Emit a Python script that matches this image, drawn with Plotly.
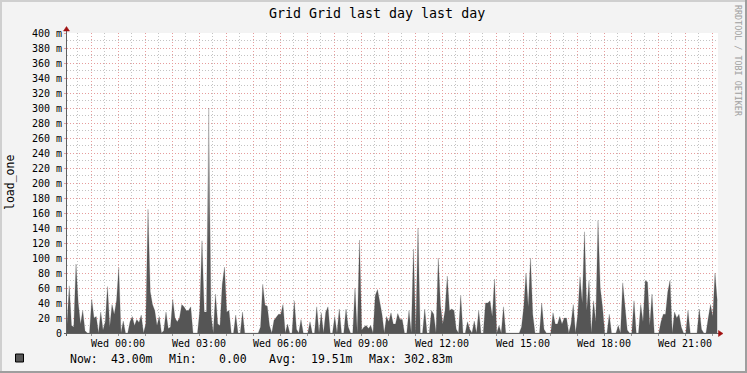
import pandas as pd
import plotly.graph_objects as go

# ---------------- data ----------------
title_text = "Grid Grid last day last day"
y_label = "load_one"
watermark = "RRDTOOL / TOBI OETIKER"
start_time = "2024-01-02 22:06:40"      # left edge of the graph (Tue)
end_time = "2024-01-03 22:13:20"        # right edge of the graph (Wed)
step = "5min"

# load_one in milli-units, one value per 5 minutes
load_one_m = [
    12, 63, 10, 8, 92, 40, 12, 30, 3, 0,
    0, 45, 20, 22, 0, 28, 4, 15, 62, 8,
    38, 25, 43, 87, 0, 16, 0, 0, 15, 22,
    10, 18, 14, 24, 0, 12, 165, 55, 38, 30,
    10, 22, 0, 3, 28, 6, 8, 45, 20, 15,
    20, 38, 35, 30, 30, 35, 0, 0, 0, 30,
    123, 28, 28, 300, 25, 0, 52, 12, 10, 65,
    88, 28, 30, 0, 0, 24, 0, 0, 28, 0,
    0, 0, 0, 0, 0, 0, 8, 65, 37, 36,
    10, 0, 17, 21, 25, 25, 38, 0, 12, 0,
    0, 43, 5, 0, 18, 0, 0, 0, 15, 0,
    0, 35, 0, 27, 0, 28, 35, 0, 0, 22,
    0, 32, 0, 0, 32, 8, 0, 0, 60, 0,
    124, 4, 8, 10, 6, 10, 0, 50, 58, 43,
    25, 0, 22, 15, 27, 12, 12, 26, 18, 18,
    0, 0, 30, 0, 112, 0, 140, 0, 0, 32,
    0, 0, 30, 25, 0, 100, 37, 12, 30, 76,
    30, 32, 30, 5, 0, 50, 0, 0, 15, 5,
    0, 16, 0, 30, 0, 0, 40, 40, 43, 22,
    72, 0, 10, 0, 35, 0, 0, 0, 0, 0,
    0, 0, 8, 35, 80, 35, 100, 25, 0, 0,
    0, 40, 5, 0, 0, 0, 27, 12, 12, 22,
    12, 20, 20, 0, 12, 38, 0, 25, 75, 40,
    135, 30, 70, 0, 43, 15, 150, 60, 35, 0,
    0, 25, 0, 0, 0, 10, 0, 67, 40, 4,
    0, 0, 43, 0, 0, 38, 15, 70, 68, 10,
    52, 0, 0, 0, 15, 25, 25, 55, 70, 0,
    28, 20, 25, 8, 0, 0, 30, 0, 0, 0,
    0, 32, 5, 0, 0, 20, 38, 22, 80, 43,
]

y_tick_values = [0, 20, 40, 60, 80, 100, 120, 140, 160, 180, 200,
                 220, 240, 260, 280, 300, 320, 340, 360, 380, 400]
y_tick_labels = ["0"] + [f"{v} m" for v in y_tick_values[1:]]
y_minor_values = [10, 30, 50, 70, 90, 110, 130, 150, 170, 190,
                  210, 230, 250, 270, 290, 310, 330, 350, 370, 390]

hour_ticks = ["2024-01-02 23:00"] + [f"2024-01-03 {h:02d}:00" for h in range(0, 23)]
half_hour_ticks = ["2024-01-02 22:30", "2024-01-02 23:30"] + \
    [f"2024-01-03 {h:02d}:30" for h in range(0, 22)]
x_tick_labels = {"2024-01-03 00:00": "Wed 00:00", "2024-01-03 03:00": "Wed 03:00",
                 "2024-01-03 06:00": "Wed 06:00", "2024-01-03 09:00": "Wed 09:00",
                 "2024-01-03 12:00": "Wed 12:00", "2024-01-03 15:00": "Wed 15:00",
                 "2024-01-03 18:00": "Wed 18:00", "2024-01-03 21:00": "Wed 21:00"}

legend_items = [("Now:", 67.7), ("43.00m", 109), ("Min:", 166.7), ("0.00", 216.7),
                ("Avg:", 266.7), ("19.51m", 309), ("Max:", 366.7), ("302.83m", 401.7)]

# ---------------- layout helpers ----------------
W, H = 747, 373
L, R, T, B = 67, 718, 33, 333          # plot area in pixels


def px(x):
    return (x - L) / (R - L)


def py(y):
    return (B - y) / (B - T)


FONT = "DejaVu Sans Mono"
times = pd.date_range(start_time, periods=len(load_one_m), freq=step)

fig = go.Figure()
fig.add_trace(go.Scatter(
    x=times, y=load_one_m, mode="lines", fill="tozeroy",
    fillgradient=dict(type="vertical",
                      colorscale=[[0.0, "#555555"], [0.4, "#555555"], [1.0, "#D8D8D8"]]),
    line=dict(color="rgba(85,85,85,0.6)", width=0.4),
    hoverinfo="skip", showlegend=False,
))

grid_major = "#E69C9C"
grid_minor = "#C4C4C4"
dots = "1px,2px"

fig.update_layout(
    width=W, height=H, autosize=False,
    margin=dict(l=L, r=W - R, t=T, b=H - B, pad=0),
    paper_bgcolor="#F3F3F3", plot_bgcolor="#FFFFFF",
    font=dict(family=FONT, size=10, color="#000000"),
    showlegend=False,
    xaxis=dict(
        type="date", range=[start_time, end_time],
        tickmode="array", tickvals=hour_ticks,
        ticktext=[x_tick_labels.get(t, "") for t in hour_ticks],
        showgrid=True, gridcolor=grid_major, griddash=dots, gridwidth=1,
        ticks="outside", ticklen=2, tickcolor="#999999", ticklabelstandoff=-1,
        tickfont=dict(family=FONT, size=10, color="#000000"),
        showline=False, zeroline=False,
        minor=dict(tickmode="array", tickvals=half_hour_ticks, showgrid=True,
                   gridcolor=grid_minor, griddash=dots, ticks=""),
    ),
    yaxis=dict(
        range=[0, 400], tickmode="array", tickvals=y_tick_values, ticktext=y_tick_labels,
        showgrid=True, gridcolor=grid_major, griddash=dots, gridwidth=1,
        ticks="outside", ticklen=2, tickcolor=grid_major,
        tickfont=dict(family=FONT, size=10, color="#000000"),
        showline=False, zeroline=False,
        minor=dict(tickmode="array", tickvals=y_minor_values, showgrid=True,
                   gridcolor=grid_minor, griddash=dots, ticks=""),
    ),
)

shapes = []
# 3D-ish image border
shapes.append(dict(type="rect", xref="paper", yref="paper", x0=px(0), x1=px(W), y0=py(0), y1=py(2),
                   fillcolor="#CFCFCF", line_width=0, layer="above"))
shapes.append(dict(type="rect", xref="paper", yref="paper", x0=px(0), x1=px(2), y0=py(0), y1=py(H),
                   fillcolor="#CFCFCF", line_width=0, layer="above"))
shapes.append(dict(type="rect", xref="paper", yref="paper", x0=px(0), x1=px(W), y0=py(H - 2), y1=py(H),
                   fillcolor="#9E9E9E", line_width=0, layer="above"))
shapes.append(dict(type="rect", xref="paper", yref="paper", x0=px(W - 2), x1=px(W), y0=py(0), y1=py(H),
                   fillcolor="#9E9E9E", line_width=0, layer="above"))
# axes with arrows
shapes.append(dict(type="line", xref="paper", yref="paper", x0=px(64), x1=px(719), y0=py(333.5), y1=py(333.5),
                   line=dict(color="#606060", width=1), layer="above"))
shapes.append(dict(type="line", xref="paper", yref="paper", x0=px(66.5), x1=px(66.5), y0=py(336), y1=py(30),
                   line=dict(color="#606060", width=1), layer="above"))
shapes.append(dict(type="path", xref="paper", yref="paper",
                   path=f"M {px(718.5)} {py(330.5)} L {px(718.5)} {py(336.5)} L {px(723)} {py(333.5)} Z",
                   fillcolor="#A01010", line=dict(color="#A01010", width=0.5), layer="above"))
shapes.append(dict(type="path", xref="paper", yref="paper",
                   path=f"M {px(63.5)} {py(31)} L {px(69.5)} {py(31)} L {px(66.5)} {py(26.5)} Z",
                   fillcolor="#A01010", line=dict(color="#A01010", width=0.5), layer="above"))
# legend swatch
shapes.append(dict(type="rect", xref="paper", yref="paper", x0=px(15.5), x1=px(23.5), y0=py(354), y1=py(362),
                   fillcolor="#555555", line=dict(color="#000000", width=1), layer="above"))
fig.update_layout(shapes=shapes)

ann = []
ann.append(dict(text=title_text, xref="paper", yref="paper", x=px(377), y=py(13),
                xanchor="center", yanchor="middle", showarrow=False,
                font=dict(family=FONT, size=13.3, color="#000000")))
ann.append(dict(text=y_label, xref="paper", yref="paper", x=px(10), y=py(183),
                xanchor="center", yanchor="middle", textangle=-90, showarrow=False,
                font=dict(family=FONT, size=11.5, color="#000000")))
ann.append(dict(text=watermark, xref="paper", yref="paper", x=px(738), y=py(61),
                xanchor="center", yanchor="middle", textangle=90, showarrow=False,
                font=dict(family=FONT, size=8.4, color="#A0A0A0")))
for txt, xpos in legend_items:
    ann.append(dict(text=txt, xref="paper", yref="paper", x=px(xpos), y=py(359),
                    xanchor="left", yanchor="middle", showarrow=False,
                    font=dict(family=FONT, size=11.5, color="#000000")))
fig.update_layout(annotations=ann)

fig.write_html("out.html")
